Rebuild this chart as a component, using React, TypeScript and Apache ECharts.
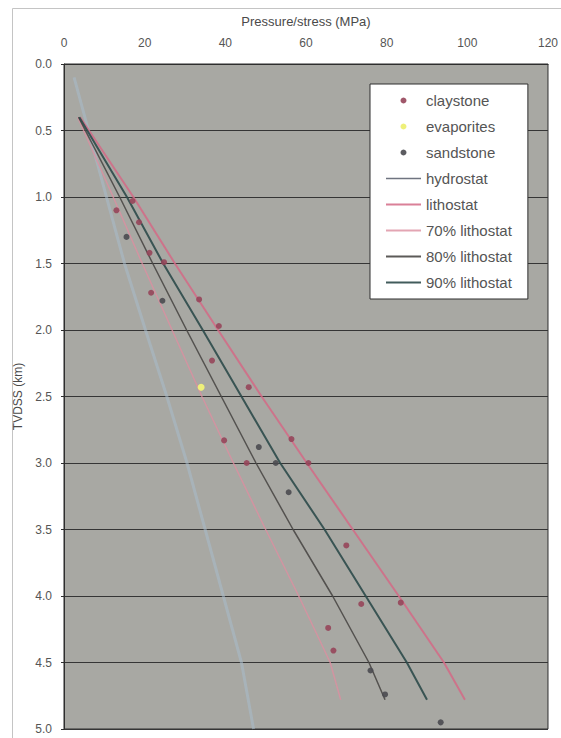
import React, { useEffect, useRef } from "react";
import * as echarts from "echarts";

// Tick settings
const xTicks = { min: 0, max: 120, interval: 20 };
const yTicks = { min: 0, max: 5, interval: 0.5 };

// Stress lines (MPa) read at these depths (km)
const lineDepths = [0.4, 1.0, 1.5, 2.0, 2.5, 3.0, 3.5, 4.0, 4.5, 4.78];
const lithostat = [4.0, 17.2, 27.5, 38.2, 49.0, 60.2, 71.6, 83.0, 94.2, 99.4];
const lith90 = [3.8, 15.6, 24.6, 34.4, 44.0, 53.6, 64.6, 74.8, 85.0, 90.0];
const lith80 = [3.6, 13.8, 22.0, 30.4, 39.0, 47.6, 56.8, 66.6, 75.6, 79.6];
const lith70 = [3.4, 12.2, 19.4, 26.8, 34.2, 42.0, 50.0, 58.2, 66.0, 68.6];

const hydroDepths = [0.1, 1.5, 2.0, 2.5, 3.0, 3.5, 4.0, 4.5, 5.0];
const hydrostat = [2.5, 15.0, 20.2, 25.5, 30.5, 35.0, 39.5, 44.0, 47.0];

// Measured points: [pressure MPa, depth km]
const claystone: number[][] = [
  [13.0, 1.1], [17.0, 1.03], [18.6, 1.19], [21.2, 1.42], [24.8, 1.49],
  [21.6, 1.72], [33.5, 1.77], [38.4, 1.97], [36.7, 2.23], [45.8, 2.43],
  [39.7, 2.83], [56.4, 2.82], [60.6, 3.0], [45.3, 3.0], [70.0, 3.62],
  [83.5, 4.05], [73.7, 4.06], [65.5, 4.24], [66.8, 4.41],
];
const sandstone: number[][] = [
  [15.5, 1.3], [24.4, 1.78], [48.3, 2.88], [52.5, 3.0], [55.7, 3.22],
  [76.0, 4.56], [79.6, 4.74], [93.4, 4.95],
];
const evaporites: number[][] = [[34.0, 2.43]];

const FONT = "'Liberation Sans', Arial, sans-serif";

function pairs(xs: number[], ys: number[]) {
  return xs.map((x, i) => [x, ys[i]]);
}

export default function App() {
  const ref = useRef<HTMLDivElement>(null);
  useEffect(() => {
    if (!ref.current) return;
    const chart = echarts.init(ref.current, null, { renderer: "svg" });
    const lineSeries = (
      name: string,
      data: number[][],
      color: string,
      width: number,
      opacity: number,
      z: number
    ) => ({
      name,
      type: "line",
      data,
      symbol: "none",
      z,
      lineStyle: { color, width, opacity },
      itemStyle: { color },
    });
    const hidden = { opacity: 0 };
    chart.setOption({
      animation: false,
      backgroundColor: "#ffffff",
      textStyle: { fontFamily: FONT },
      grid: {
        left: 64,
        right: 13,
        top: 64,
        bottom: 9,
        show: true,
        backgroundColor: "#a8a8a3",
        borderColor: "#2e2e2e",
        borderWidth: 1,
      },
      xAxis: {
        type: "value",
        position: "top",
        min: xTicks.min,
        max: xTicks.max,
        interval: xTicks.interval,
        name: "Pressure/stress (MPa)",
        nameLocation: "middle",
        nameGap: 36,
        nameTextStyle: { color: "#4a4a4a", fontSize: 13, fontFamily: FONT },
        axisLine: { show: true, lineStyle: { color: "#2e2e2e" } },
        axisTick: { show: false },
        splitLine: { show: false },
        axisLabel: { color: "#555", fontSize: 12, margin: 15, fontFamily: FONT },
      },
      yAxis: {
        type: "value",
        inverse: true,
        min: yTicks.min,
        max: yTicks.max,
        interval: yTicks.interval,
        name: "TVDSS (km)",
        nameLocation: "middle",
        nameGap: 29,
        nameTextStyle: { color: "#4a4a4a", fontSize: 12, fontFamily: FONT },
        axisLine: { show: true, lineStyle: { color: "#2e2e2e" } },
        axisTick: { show: true, length: 3, lineStyle: { color: "#2e2e2e" } },
        splitLine: { show: true, lineStyle: { color: "#353535", width: 1 } },
        axisLabel: {
          color: "#555",
          fontSize: 12,
          margin: 12,
          fontFamily: FONT,
          formatter: (v: number) => v.toFixed(1),
        },
      },
      legend: {
        orient: "vertical",
        left: 370,
        top: 84,
        padding: [9, 16, 9, 15],
        backgroundColor: "#ffffff",
        borderColor: "#2e2e2e",
        borderWidth: 1,
        itemWidth: 35,
        itemHeight: 6,
        itemGap: 11,
        textStyle: { color: "#555", fontSize: 15, lineHeight: 14, fontFamily: FONT },
        data: [
          { name: "claystone" },
          { name: "evaporites" },
          { name: "sandstone" },
          {
            name: "hydrostat",
            itemStyle: hidden,
            lineStyle: { color: "#6f7480", width: 1.5, opacity: 1 },
          },
          { name: "lithostat", itemStyle: hidden },
          { name: "70% lithostat", itemStyle: hidden },
          { name: "80% lithostat", itemStyle: hidden },
          { name: "90% lithostat", itemStyle: hidden },
        ],
      },
      graphic: [
        {
          type: "line",
          shape: { x1: 12.5, y1: 8.5, x2: 561, y2: 8.5 },
          style: { stroke: "#c4c4c4", lineWidth: 1 },
          silent: true,
        },
        {
          type: "line",
          shape: { x1: 12.5, y1: 8.5, x2: 12.5, y2: 738 },
          style: { stroke: "#c4c4c4", lineWidth: 1 },
          silent: true,
        },
      ],
      series: [
        lineSeries("hydrostat", pairs(hydrostat, hydroDepths), "#a7bccc", 3, 0.55, 2),
        lineSeries("lithostat", pairs(lithostat, lineDepths), "#d46a86", 2, 0.85, 3),
        lineSeries("70% lithostat", pairs(lith70, lineDepths), "#dc8ea0", 1.5, 0.8, 3),
        lineSeries("80% lithostat", pairs(lith80, lineDepths), "#4a4846", 1.5, 0.9, 3),
        lineSeries("90% lithostat", pairs(lith90, lineDepths), "#2c4a4a", 2, 0.9, 3),
        {
          name: "claystone",
          type: "scatter",
          symbol: "circle",
          symbolSize: 6,
          z: 4,
          data: claystone,
          itemStyle: { color: "#96455a", opacity: 0.9 },
        },
        {
          name: "evaporites",
          type: "scatter",
          symbol: "circle",
          symbolSize: 7,
          z: 4,
          data: evaporites,
          itemStyle: { color: "#eef07a", opacity: 1 },
        },
        {
          name: "sandstone",
          type: "scatter",
          symbol: "circle",
          symbolSize: 6,
          z: 4,
          data: sandstone,
          itemStyle: { color: "#4a4a50", opacity: 0.9 },
        },
      ],
    });
    return () => chart.dispose();
  }, []);
  return (
    <div
      ref={ref}
      style={{ position: "fixed", left: 0, top: 0, width: 561, height: 738 }}
    />
  );
}
